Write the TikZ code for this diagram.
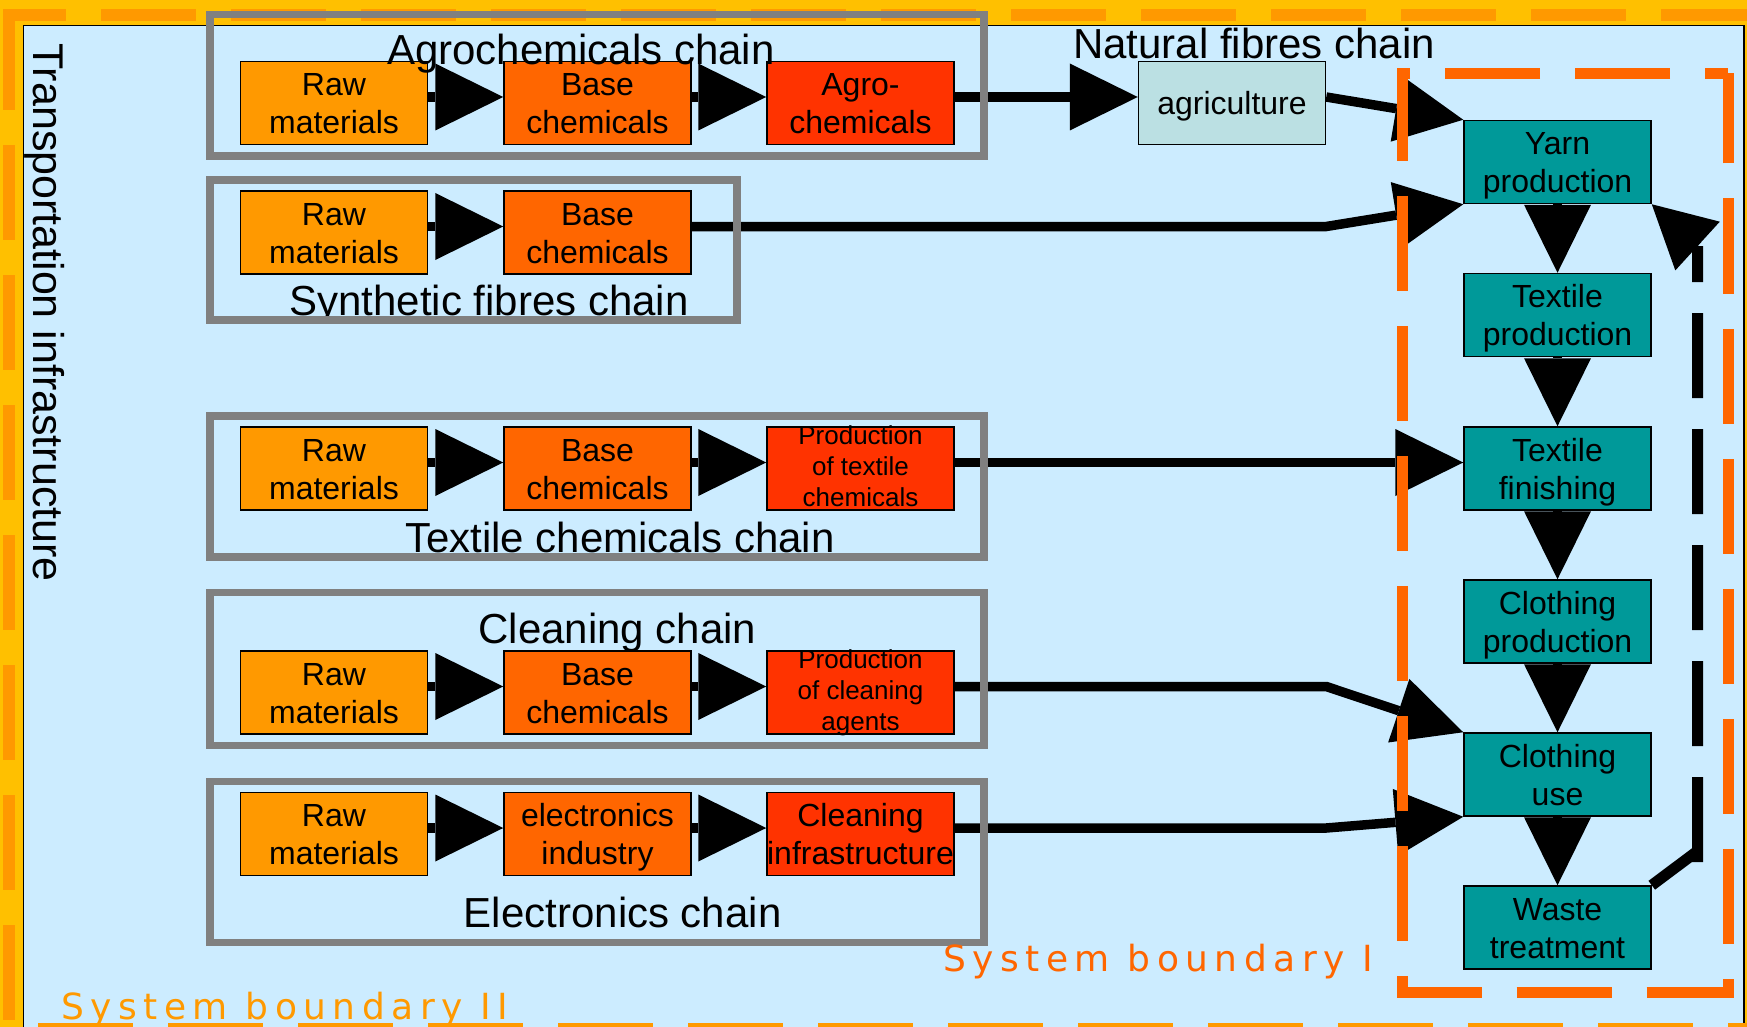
\documentclass[tikz,border=0pt]{standalone}
\usepackage{fontspec}
\setmainfont{Liberation Sans}
\newfontfamily\sbfont[LetterSpace=18]{DejaVu Sans}
\usetikzlibrary{arrows.meta}
\definecolor{cYellow}{HTML}{FFC000}
\definecolor{cBlue}{HTML}{CCECFF}
\definecolor{cOrA}{HTML}{FF9900}
\definecolor{cOrB}{HTML}{FF6600}
\definecolor{cOrC}{HTML}{FF3300}
\definecolor{cTeal}{HTML}{009999}
\definecolor{cAgri}{HTML}{BBE0E3}
\definecolor{cGray}{HTML}{808080}
\newcommand\mybst{\rule[-7pt]{0pt}{37pt}}
\newcommand\mysst{\rule[-7pt]{0pt}{28pt}}
\tikzset{
  box/.style={draw=black, line width=1.5pt, minimum width=187pt, minimum height=83pt,
    inner sep=0pt, align=center, font=\fontsize{32}{36}\selectfont},
  rawbox/.style={box, fill=cOrA},
  basebox/.style={box, fill=cOrB},
  prodbox/.style={box, fill=cOrC},
  tealbox/.style={box, fill=cTeal},
  agribox/.style={box, fill=cAgri},
  smalltxt/.style={align=center, inner sep=0pt, font=\fontsize{26}{31}\selectfont},
  conn/.style={line width=9.5pt, -{Triangle[length=68pt,width=67pt,line width=0pt]}},
  chainbox/.style={draw=cGray, line width=7.5pt},
  title/.style={anchor=base, inner sep=0pt, font=\fontsize{42}{48}\selectfont},
  sbII/.style={draw=cOrA, line width=11.5pt, dash pattern=on 95pt off 35pt},
  sbI/.style={draw=cOrB, line width=11pt, dash pattern=on 95pt off 35pt},
  sblabel/.style={anchor=base west, inner sep=0pt, font=\fontsize{36}{40}\sbfont}
}
\begin{document}
\begin{tikzpicture}[x=1pt,y=-1pt]
\useasboundingbox (0,0) rectangle (1747,1027);
\clip (0,0) rectangle (1747,1027);
\fill[cYellow] (0,0) rectangle (1747,1027);
\draw[fill=cBlue, line width=1.5pt] (23.5,25.5) rectangle (1744,1060);
% system boundary II
\draw[sbII, dash phase=32pt] (3,15) -- (1760,15);
\draw[sbII] (9,15) -- (9,1040);
\draw[sbII, dash phase=95pt] (3,1028.5) -- (1760,1028.5);

% chain boxes
\node[rawbox]  (r1a) at (334,103)   {\mybst Raw\\\mybst materials};
\node[basebox] (r1b) at (597.5,103) {\mybst Base\\\mybst chemicals};
\node[prodbox] (r1c) at (860.5,103) {\mybst Agro-\\\mybst chemicals};
\node[rawbox]  (r2a) at (334,232.5)   {\mybst Raw\\\mybst materials};
\node[basebox] (r2b) at (597.5,232.5) {\mybst Base\\\mybst chemicals};
\node[rawbox]  (r3a) at (334,468.5)   {\mybst Raw\\\mybst materials};
\node[basebox] (r3b) at (597.5,468.5) {\mybst Base\\\mybst chemicals};
\node[prodbox] (r3c) at (860.5,468.5) {};
\node[rawbox]  (r4a) at (334,692.5)   {\mybst Raw\\\mybst materials};
\node[basebox] (r4b) at (597.5,692.5) {\mybst Base\\\mybst chemicals};
\node[prodbox] (r4c) at (860.5,692.5) {};
\node[rawbox]  (r5a) at (334,834)   {\mybst Raw\\\mybst materials};
\node[basebox] (r5b) at (597.5,834) {\mybst electronics\\\mybst industry};
\node[prodbox] (r5c) at (860.5,834) {\mybst Cleaning\\\mybst infrastructure};
\node[agribox] (agri) at (1232,103) {\mybst agriculture};
% textile chain
\node[tealbox] (yarn)  at (1557.5,162)   {\mybst Yarn\\\mybst production};
\node[tealbox] (tprod) at (1557.5,315)   {\mybst Textile\\\mybst production};
\node[tealbox] (tfin)  at (1557.5,468.5) {\mybst Textile\\\mybst finishing};
\node[tealbox] (cprod) at (1557.5,621.5) {\mybst Clothing\\\mybst production};
\node[tealbox] (cuse)  at (1557.5,774.5) {\mybst Clothing\\\mybst use};
\node[tealbox] (waste) at (1557.5,927.5) {\mybst Waste\\\mybst treatment};

% connectors within chains
\foreach \a/\b in {r1a/r1b, r1b/r1c, r2a/r2b, r3a/r3b, r3b/r3c, r4a/r4b, r4b/r4c, r5a/r5b, r5b/r5c}
  \draw[conn] ([yshift=6pt]\a.east) -- ([yshift=6pt]\b.west);
\draw[conn] ([yshift=6pt]r1c.east) -- ([yshift=6pt]agri.west);
\draw[conn] ([yshift=6pt]agri.east) -- (yarn.north west);
\draw[conn] ([yshift=6pt]r2b.east) -- ([yshift=6pt]r2b.east -| agri.east) -- (yarn.south west);
\draw[conn] ([yshift=6pt]r3c.east) -- ([yshift=6pt]tfin.west);
\draw[conn] ([yshift=6pt]r4c.east) -- ([yshift=6pt]r4c.east -| agri.east) -- (cuse.north west);
\draw[conn] ([yshift=6pt]r5c.east) -- ([yshift=6pt]r5c.east -| agri.east) -- (cuse.south west);
\foreach \a/\b in {yarn/tprod, tprod/tfin, tfin/cprod, cprod/cuse, cuse/waste}
  \draw[conn] (\a.south) -- (\b.north);
% feedback
\coordinate (fbjoin) at (1697.5,851);
\coordinate (fbbot) at (1697.5,862);
\coordinate (fbtop) at (1697.5,246);
\draw[line width=11pt] (waste.north east) -- (fbjoin);
\draw[line width=11pt, line join=round, dash pattern=on 85pt off 31pt,
  -{Triangle[length=62pt,width=66pt,line width=0pt]}] (fbbot) -- (fbtop) -- (yarn.south east);

% small texts
\node[smalltxt] (r3ct) at (r3c.center) {\mysst Production\\\mysst of textile\\\mysst chemicals};
\node[smalltxt] (r4ct) at (r4c.center) {\mysst Production\\\mysst of cleaning\\\mysst agents};

% titles
\node[title] (t1) at (581,65)    {Agrochemicals chain};
\node[title] (t2) at (489,315)   {Synthetic fibres chain};
\node[title] (t0) at (1254,59)   {Natural fibres chain};
\node[title] (t3) at (620,552)   {Textile chemicals chain};
\node[title] (t4) at (617.5,643) {Cleaning chain};
\node[title] (t5) at (622.7,927) {Electronics chain};

% chain frames
\draw[chainbox] (210,14.5) rectangle (984,156);
\draw[chainbox] (210,180) rectangle (737,320);
\draw[chainbox] (210,416) rectangle (984,557);
\draw[chainbox] (210,592.5) rectangle (984,745.5);
\draw[chainbox] (210,781.5) rectangle (984,942.5);

% system boundary I
\draw[sbI, dash phase=72pt] (1728,73.5) -- (1402.5,73.5) -- (1402.5,992) -- (1728,992) -- cycle;

\node[sblabel, text=cOrB] (sb1) at (943,971) {System boundary I};
\node[sblabel, text=cOrA] (sb2) at (61,1019) {System boundary II};

\node[rotate=-90, anchor=base west, inner sep=0pt, font=\fontsize{43}{48}\selectfont] (trans) at (33,43) {Transportation infrastructure};
\end{tikzpicture}
\end{document}
